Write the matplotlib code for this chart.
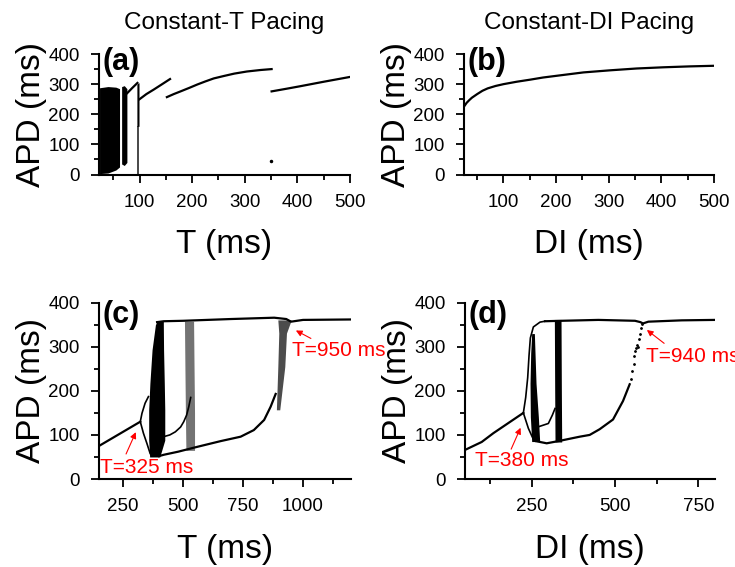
import matplotlib
matplotlib.use('Agg')
import matplotlib.pyplot as plt
from matplotlib.ticker import MultipleLocator

plt.rcParams['font.family'] = ['Liberation Sans', 'DejaVu Sans']

# ---- (a) constant-T pacing ----
a_band1_t = [24, 40, 55, 62]
a_band1_lo = [3, 5, 15, 25]
a_band1_hi = [288, 292, 290, 285]
a_band2_t = [66, 71, 76]
a_band2_lo = [35, 30, 40]
a_band2_hi = [292, 295, 285]
a_band3_t = [95, 99]
a_band3_lo = [160, 160]
a_band3_hi = [300, 305]
a_band3s_lo = [3, 3]
a_link_t = [76.5, 86, 96]
a_link_apd = [270, 287, 304]
a_curve1_t = [100, 113, 127, 143, 158]
a_curve1_apd = [250, 267, 282, 300, 317]
a_curve2_t = [152, 165, 178, 195, 210, 225, 241, 260, 280, 304, 330, 351]
a_curve2_apd = [257, 267, 276, 288, 299, 309, 319, 327, 335, 342, 347, 350]
a_curve3_t = [351, 380, 405, 450, 500]
a_curve3_apd = [276, 285, 293, 308, 324]
a_dot_t = [350]
a_dot_apd = [45]

# ---- (b) constant-DI pacing ----
b_di = [26, 30, 35, 40, 50, 60, 70, 85, 100, 125, 151, 175, 202, 252, 303, 353, 404, 454, 500]
b_apd = [228, 238, 247, 255, 267, 278, 286, 294, 300, 308, 315, 322, 328, 339, 346, 352, 356, 359, 361]

# ---- (c) constant-T pacing, wide range ----
c_pre_t = [150, 322]
c_pre_apd = [75, 130]
c_up_t = [322, 329, 342, 356]
c_up_apd = [130, 149, 172, 187]
c_down_t = [322, 335, 350, 363]
c_down_apd = [130, 104, 80, 58]
c_band1_apd = [50, 88, 157, 217, 293, 350, 358]
c_band1_l = [361, 357, 357, 362, 371, 385, 392]
c_band1_r = [403, 424, 424, 422, 419, 418, 418]
c_band2_apd = [65, 150, 250, 358]
c_band2_l = [512, 510, 508, 506]
c_band2_r = [548, 548, 546, 544]
c_band3_apd = [157, 255, 331, 361]
c_band3_l = [889, 895, 899, 895]
c_band3_r = [903, 924, 931, 951]
c_top_t = [392, 420, 500, 700, 880, 930, 950, 1000, 1200]
c_top_apd = [356, 358, 359, 363, 366, 363, 357, 361, 362]
c_mid_t = [419, 445, 468, 490, 503, 515, 524, 532]
c_mid_apd = [96, 100, 107, 118, 130, 145, 164, 185]
c_low_t = [400, 420, 480, 552, 657, 740, 795, 838, 865, 886]
c_low_apd = [52, 55, 62, 72, 86, 96, 111, 134, 164, 193]

# ---- (d) constant-DI pacing, wide range ----
d_pre_di = [50, 100, 135, 180, 225]
d_pre_apd = [66, 84, 104, 127, 150]
d_up_di = [225, 232, 238, 242, 246, 255, 275, 290]
d_up_apd = [150, 185, 230, 280, 320, 345, 356, 358]
d_down_di = [225, 240, 252, 262]
d_down_apd = [150, 115, 95, 86]
d_band1_apd = [85, 141, 217, 285, 330]
d_band1_l = [250, 246, 245, 247, 250]
d_band1_r = [274, 270, 263, 260, 258]
d_band2_apd = [84, 200, 362]
d_band2_l = [320, 319, 318]
d_band2_r = [340, 339, 338]
d_mid_di = [268, 280, 300, 312, 320]
d_mid_apd = [118, 121, 126, 145, 160]
d_low_di = [262, 295, 330, 394, 424, 454, 494, 524, 544]
d_low_apd = [86, 81, 86, 96, 100, 113, 135, 177, 215]
d_sparse_di = [548, 552, 556, 558, 561, 563, 566, 568, 571, 574, 577, 580]
d_sparse_apd = [228, 245, 262, 280, 290, 298, 305, 300, 318, 330, 342, 352]
d_top_di = [290, 340, 450, 560, 576, 584, 600, 700, 800]
d_top_apd = [358, 359, 361, 359, 356, 353, 357, 360, 361]

LW = 1.6
fig = plt.figure(figsize=(7.35, 5.67), dpi=100)
ax_a = fig.add_axes([0.1347, 0.6922, 0.3415, 0.2125])
ax_b = fig.add_axes([0.6313, 0.6922, 0.3401, 0.2125])
ax_c = fig.add_axes([0.1347, 0.1552, 0.3429, 0.3109])
ax_d = fig.add_axes([0.6327, 0.1552, 0.3401, 0.3109])

# (a)
ax_a.fill_between(a_band1_t, a_band1_lo, a_band1_hi, color='black', lw=0)
ax_a.fill_between(a_band2_t, a_band2_lo, a_band2_hi, color='black', lw=0)
ax_a.fill_between(a_band3_t, a_band3_lo, a_band3_hi, color='black', lw=0)
ax_a.fill_between(a_band3_t, a_band3s_lo, a_band3_lo, color='black', alpha=0.7, lw=0)
ax_a.plot(a_link_t, a_link_apd, color='black', lw=LW)
ax_a.plot(a_curve1_t, a_curve1_apd, color='black', lw=LW)
ax_a.plot(a_curve2_t, a_curve2_apd, color='black', lw=LW)
ax_a.plot(a_curve3_t, a_curve3_apd, color='black', lw=LW)
ax_a.plot(a_dot_t, a_dot_apd, 'k.', ms=3)
ax_a.set_xlim(23, 500)
ax_a.set_ylim(0, 400)
ax_a.xaxis.set_major_locator(MultipleLocator(100))
ax_a.xaxis.set_minor_locator(MultipleLocator(50))
ax_a.set_xlabel('T (ms)')

# (b)
ax_b.plot(b_di, b_apd, color='black', lw=LW)
ax_b.set_xlim(25, 500)
ax_b.set_ylim(0, 400)
ax_b.xaxis.set_major_locator(MultipleLocator(100))
ax_b.xaxis.set_minor_locator(MultipleLocator(50))
ax_b.set_xlabel('DI (ms)')

# (c)
ax_c.plot(c_pre_t, c_pre_apd, color='black', lw=LW)
ax_c.plot(c_up_t, c_up_apd, color='black', lw=1.2)
ax_c.plot(c_down_t, c_down_apd, color='black', lw=1.2)
ax_c.fill_betweenx(c_band1_apd, c_band1_l, c_band1_r, color='black', lw=0)
ax_c.fill_betweenx(c_band2_apd, c_band2_l, c_band2_r, color='black', alpha=0.55, lw=0)
ax_c.fill_betweenx(c_band3_apd, c_band3_l, c_band3_r, color='black', alpha=0.7, lw=0)
ax_c.plot(c_top_t, c_top_apd, color='black', lw=LW)
ax_c.plot(c_mid_t, c_mid_apd, color='black', lw=1.2)
ax_c.plot(c_low_t, c_low_apd, color='black', lw=LW)
ax_c.set_xlim(150, 1200)
ax_c.set_ylim(0, 400)
ax_c.xaxis.set_major_locator(MultipleLocator(250))
ax_c.xaxis.set_minor_locator(MultipleLocator(125))
ax_c.set_xlabel('T (ms)')
ax_c.text(154, 26, 'T=325 ms', color='red', fontsize=15, va='center')
ax_c.annotate('', xy=(308, 112), xytext=(258, 51),
              arrowprops=dict(arrowstyle='-|>', color='red', lw=0.8, mutation_scale=9))
ax_c.text(954, 292, 'T=950 ms', color='red', fontsize=15, va='center')
ax_c.annotate('', xy=(960, 340), xytext=(1043, 316),
              arrowprops=dict(arrowstyle='-|>', color='red', lw=0.8, mutation_scale=9))

# (d)
ax_d.plot(d_pre_di, d_pre_apd, color='black', lw=LW)
ax_d.plot(d_up_di, d_up_apd, color='black', lw=1.2)
ax_d.plot(d_down_di, d_down_apd, color='black', lw=1.2)
ax_d.fill_betweenx(d_band1_apd, d_band1_l, d_band1_r, color='black', lw=0)
ax_d.fill_betweenx(d_band2_apd, d_band2_l, d_band2_r, color='black', lw=0)
ax_d.plot(d_mid_di, d_mid_apd, color='black', lw=1.2)
ax_d.plot(d_low_di, d_low_apd, color='black', lw=LW)
ax_d.plot(d_sparse_di, d_sparse_apd, 'k.', ms=2)
ax_d.plot(d_top_di, d_top_apd, color='black', lw=LW)
ax_d.set_xlim(50, 800)
ax_d.set_ylim(0, 400)
ax_d.xaxis.set_major_locator(MultipleLocator(250))
ax_d.xaxis.set_minor_locator(MultipleLocator(125))
ax_d.set_xlabel('DI (ms)')
ax_d.text(80, 41, 'T=380 ms', color='red', fontsize=15, va='center')
ax_d.annotate('', xy=(220, 122), xytext=(185, 62),
              arrowprops=dict(arrowstyle='-|>', color='red', lw=0.8, mutation_scale=9))
ax_d.text(594, 279, 'T=940 ms', color='red', fontsize=15, va='center')
ax_d.annotate('', xy=(589, 342), xytext=(654, 304),
              arrowprops=dict(arrowstyle='-|>', color='red', lw=0.8, mutation_scale=9))

for ax, tag in zip([ax_a, ax_b, ax_c, ax_d], ['(a)', '(b)', '(c)', '(d)']):
    ax.spines['top'].set_visible(False)
    ax.spines['right'].set_visible(False)
    ax.spines['left'].set_linewidth(1.5)
    ax.spines['bottom'].set_linewidth(1.5)
    ax.yaxis.set_major_locator(MultipleLocator(100))
    ax.yaxis.set_minor_locator(MultipleLocator(50))
    ax.tick_params(which='major', direction='out', length=6, width=1.3,
                   labelsize=13.5, pad=8)
    ax.tick_params(which='minor', direction='out', length=3.5, width=1.3)
    ax.set_ylabel('APD (ms)', fontsize=24, labelpad=1)
    ax.xaxis.label.set_fontsize(24)
    ax.xaxis.labelpad = 13
    ax.text(0.012, 0.93, tag, transform=ax.transAxes, fontsize=22,
            fontweight='bold', va='center', ha='left')

ax_a.set_title('Constant-T Pacing', fontsize=17.5, pad=18)
ax_b.set_title('Constant-DI Pacing', fontsize=17.5, pad=18)

fig.savefig('out.png', dpi=100)
